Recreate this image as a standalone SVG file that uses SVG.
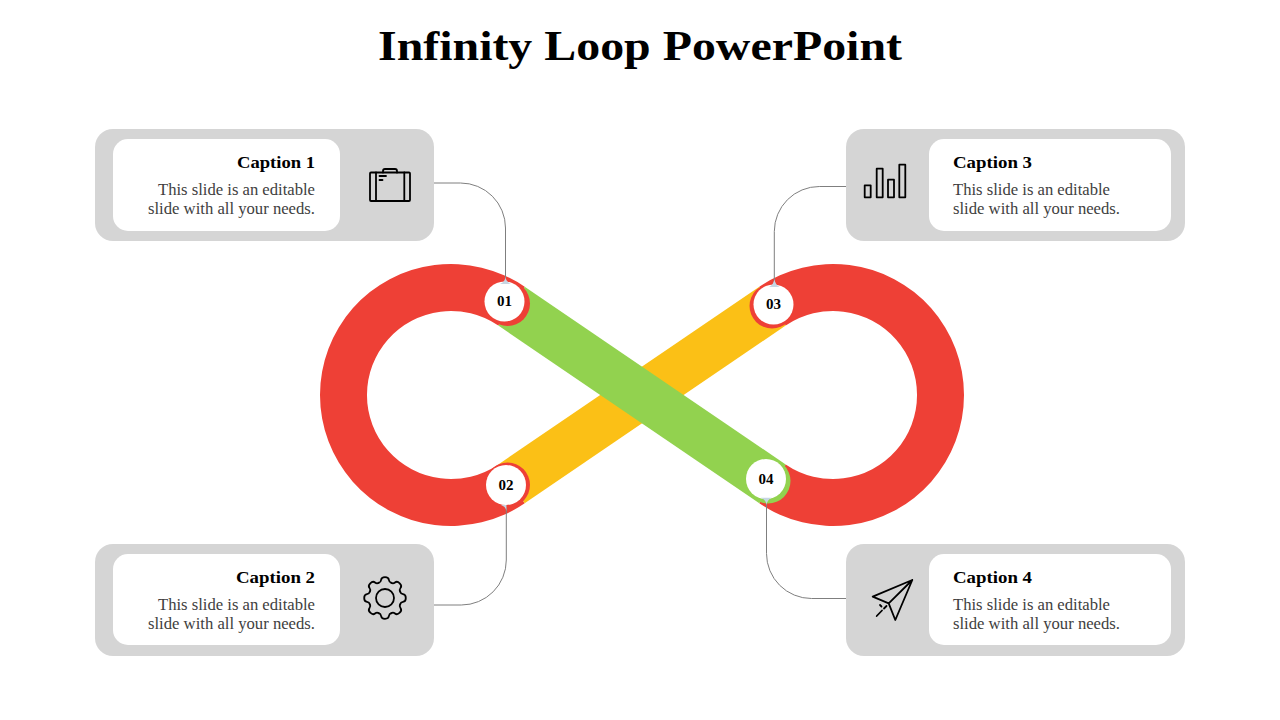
<svg xmlns="http://www.w3.org/2000/svg" width="1280" height="720" viewBox="0 0 1280 720">
<style>
text{font-family:"Liberation Serif","DejaVu Serif",serif}
.title{font-size:42px;font-weight:700;fill:#000}
.cap{font-size:17px;font-weight:700;fill:#000}
.body{font-size:16.5px;fill:#404040}
.num{font-size:15px;font-weight:700;fill:#000;text-anchor:middle}
.panel{fill:#d5d5d5}
.card{fill:#fff}
.ico{fill:none;stroke:#000;stroke-width:1.8;stroke-linejoin:round;stroke-linecap:round}
.conn{fill:none;stroke:#7f7f7f;stroke-width:1}
.tip{fill:#c6d6e3}
.dot{fill:#fff}
</style>
<defs>
<path id="tooth" d="M-6.3-15.2Q-4.2-15.6-3.9-18Q-3.6-20.8 0-20.8Q3.6-20.8 3.9-18Q4.2-15.6 6.3-15.2"/>
</defs>
<rect width="1280" height="720" fill="#fff"/>
<text class="title" x="378" y="60" textLength="524" lengthAdjust="spacingAndGlyphs">Infinity Loop PowerPoint</text>
<g id="loop">
<path fill="#ee4036" d="M524.7 286.7A131 131 0 1 0 524.7 503.3L498.3 464.4A84 84 0 1 1 498.3 325.6Z"/>
<path fill="#ee4036" d="M759.3 286.7A131 131 0 1 1 759.3 503.3L785.7 464.4A84 84 0 1 0 785.7 325.6Z"/>
<path fill="#fbc016" d="M524.7 503.3L498.3 464.4L759.3 286.7L785.7 325.6Z"/>
<path fill="#92d24f" d="M524.7 286.7L498.3 325.6L759.3 503.3L785.7 464.4Z"/>
</g>
<g id="connectors">
<path class="conn" d="M433 183H460.5A45 45 0 0 1 505.5 228V278"/>
<path class="conn" d="M433.5 605H461.3A45 45 0 0 0 506.3 560V506"/>
<path class="conn" d="M848 186.5H819.3A45 45 0 0 0 774.3 231.5V282"/>
<path class="conn" d="M847 598.5H811.5A45 45 0 0 1 766.5 553.5V500"/>
</g>
<g id="node1">
<rect class="panel" x="95" y="129" width="339" height="112" rx="18"/>
<rect class="card" x="113" y="139" width="227" height="92" rx="15"/>
<text class="cap" x="237" y="168" textLength="78" lengthAdjust="spacingAndGlyphs">Caption 1</text>
<text class="body" x="158" y="195" textLength="157" lengthAdjust="spacingAndGlyphs">This slide is an editable</text>
<text class="body" x="148" y="214" textLength="167" lengthAdjust="spacingAndGlyphs">slide with all your needs.</text>
<g class="ico">
<rect x="370" y="172.5" width="40" height="28.5" rx="1"/>
<path d="M383 172.5V171Q383 169 385 169H395Q397 169 397 171V172.5M376 172.5V201M404.3 172.5V201M379.5 176H386M379.5 180H382.5"/>
</g>
<circle cx="507.5" cy="303.5" r="22.5" fill="#ee4036"/>
<circle class="dot" cx="504.5" cy="301.5" r="20"/>
<path class="tip" d="M505.5 277Q505 282 500 284H511Q506 282 505.5 277Z"/>
<text class="num" x="504.5" y="306">01</text>
</g>
<g id="node2">
<rect class="panel" x="95" y="544" width="339" height="112" rx="18"/>
<rect class="card" x="113" y="554" width="227" height="91" rx="15"/>
<text class="cap" x="236" y="583" textLength="79" lengthAdjust="spacingAndGlyphs">Caption 2</text>
<text class="body" x="158" y="610" textLength="157" lengthAdjust="spacingAndGlyphs">This slide is an editable</text>
<text class="body" x="148" y="629" textLength="167" lengthAdjust="spacingAndGlyphs">slide with all your needs.</text>
<g class="ico">
<circle cx="385" cy="598" r="9"/>
<use href="#tooth" transform="translate(385 598)"/>
<use href="#tooth" transform="translate(385 598) rotate(45)"/>
<use href="#tooth" transform="translate(385 598) rotate(90)"/>
<use href="#tooth" transform="translate(385 598) rotate(135)"/>
<use href="#tooth" transform="translate(385 598) rotate(180)"/>
<use href="#tooth" transform="translate(385 598) rotate(225)"/>
<use href="#tooth" transform="translate(385 598) rotate(270)"/>
<use href="#tooth" transform="translate(385 598) rotate(315)"/>
</g>
<circle cx="507.5" cy="485" r="22.5" fill="#ee4036"/>
<circle class="dot" cx="506" cy="485" r="20"/>
<path class="tip" d="M506.3 511Q506 507 501 505H506.5Z"/>
<text class="num" x="506" y="490">02</text>
</g>
<g id="node3">
<rect class="panel" x="846" y="129" width="339" height="112" rx="18"/>
<rect class="card" x="929" y="139" width="242" height="92" rx="15"/>
<text class="cap" x="953" y="168" textLength="79" lengthAdjust="spacingAndGlyphs">Caption 3</text>
<text class="body" x="953" y="195" textLength="157" lengthAdjust="spacingAndGlyphs">This slide is an editable</text>
<text class="body" x="953" y="214" textLength="167" lengthAdjust="spacingAndGlyphs">slide with all your needs.</text>
<g class="ico">
<rect x="864.7" y="185.3" width="6" height="12"/>
<rect x="876.7" y="168.7" width="6" height="28.6"/>
<rect x="888" y="179.7" width="6" height="17.6"/>
<rect x="899.3" y="164.7" width="6" height="32.6"/>
</g>
<circle cx="772" cy="306" r="22.5" fill="#ee4036"/>
<circle class="dot" cx="773.5" cy="304.5" r="20"/>
<path class="tip" d="M774.3 279Q774 284 769 287H779.5Q775 284 774.3 279Z"/>
<text class="num" x="773.5" y="309">03</text>
</g>
<g id="node4">
<rect class="panel" x="846" y="544" width="339" height="112" rx="18"/>
<rect class="card" x="929" y="554" width="242" height="91" rx="15"/>
<text class="cap" x="953" y="583" textLength="79" lengthAdjust="spacingAndGlyphs">Caption 4</text>
<text class="body" x="953" y="610" textLength="157" lengthAdjust="spacingAndGlyphs">This slide is an editable</text>
<text class="body" x="953" y="629" textLength="167" lengthAdjust="spacingAndGlyphs">slide with all your needs.</text>
<g class="ico">
<path d="M912.3 580L872.7 596.7L888.7 603.3ZM888.7 603.3L895.3 620L912.3 580M876.7 616L882 610.5M884 608.5L886.5 606M880 605L881.5 606.5"/>
</g>
<circle cx="768" cy="481" r="22.5" fill="#92d24f"/>
<circle class="dot" cx="766" cy="479" r="20"/>
<path class="tip" d="M760.7 497.7H771.7Q767 500 766.5 505Q766 500 760.7 497.7Z"/>
<text class="num" x="766" y="483.5">04</text>
</g>
</svg>
